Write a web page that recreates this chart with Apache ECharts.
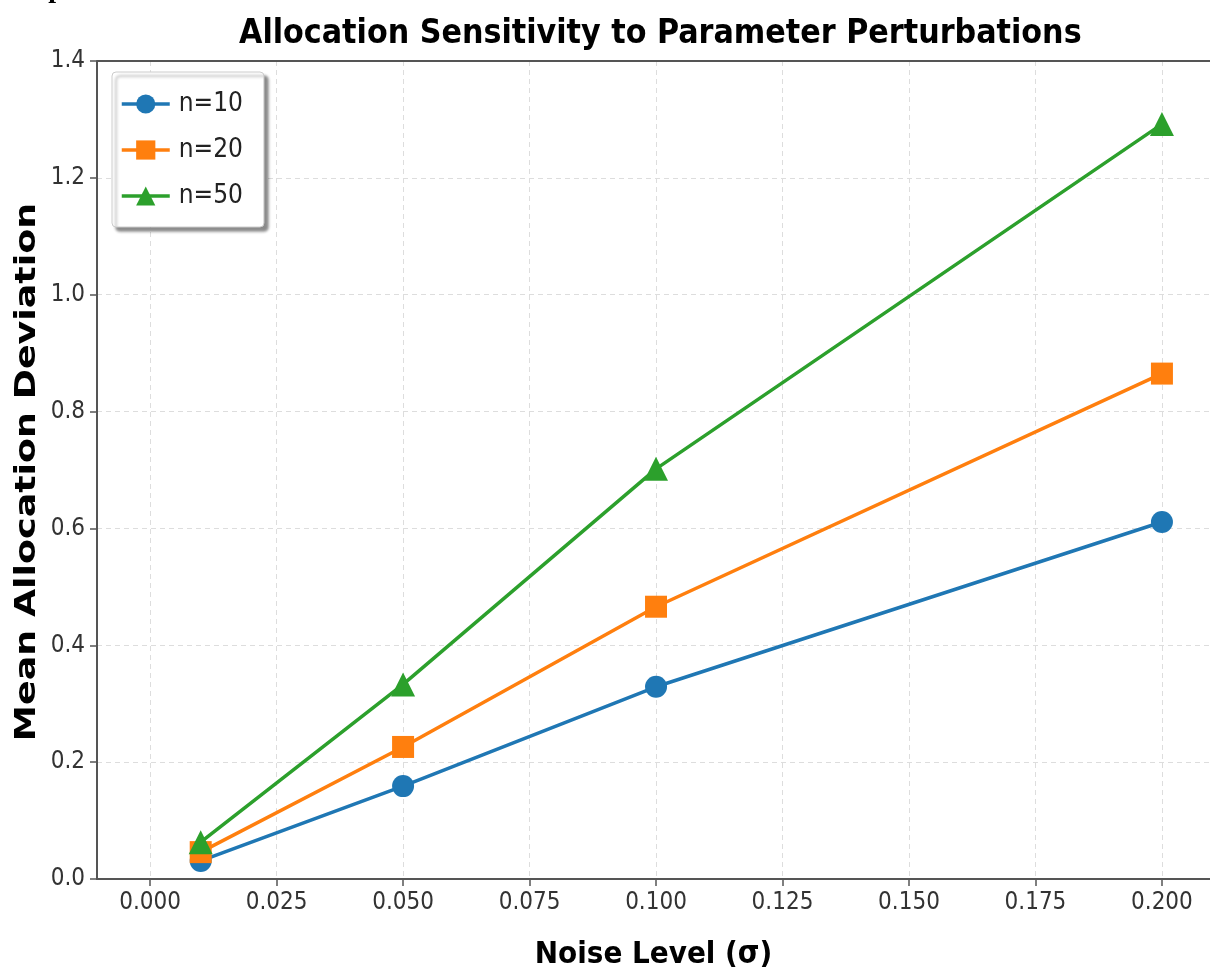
<!DOCTYPE html>
<html>
<head>
<meta charset="utf-8">
<script src="https://cdn.jsdelivr.net/npm/echarts@6/dist/echarts.min.js"></script>
<style>
html,body{margin:0;padding:0;background:#fff;}
#chart{width:1210px;height:971px;}
</style>
</head>
<body>
<div id="chart"></div>
<script>
const noiseLevels = [0.01, 0.05, 0.10, 0.20];
const seriesNames = ['n=10', 'n=20', 'n=50'];
const n10 = [0.031, 0.159, 0.329, 0.611];
const n20 = [0.046, 0.226, 0.466, 0.865];
const n50 = [0.063, 0.333, 0.702, 1.292];
const xTicks = [0, 0.025, 0.05, 0.075, 0.1, 0.125, 0.15, 0.175, 0.2];
const yTicks = [0, 0.2, 0.4, 0.6, 0.8, 1.0, 1.2, 1.4];

const colors = ['#1f77b4', '#ff7f0e', '#2ca02c'];
const symbols = ['circle', 'rect', 'triangle'];
const values = [n10, n20, n50];
const condensed = "'DejaVu Sans Condensed', 'DejaVu Sans', sans-serif";

const chart = echarts.init(document.getElementById('chart'), null, {renderer: 'canvas'});

const series = seriesNames.map((name, i) => ({
  name: name,
  type: 'line',
  data: noiseLevels.map((x, j) => [x, values[i][j]]),
  symbol: symbols[i],
  symbolSize: i === 2 ? 24 : 22,
  lineStyle: {width: 3.5, color: colors[i]},
  itemStyle: {color: colors[i]},
  z: 3 + i,
  animation: false
}));

chart.setOption({
  animation: false,
  backgroundColor: '#fff',
  title: {
    text: 'Allocation Sensitivity to Parameter Perturbations',
    left: 234,
    top: 12,
    textStyle: {fontFamily: condensed, fontWeight: 'bold', fontSize: 33.6, color: '#000'}
  },
  legend: {
    orient: 'vertical',
    left: 112,
    top: 72,
    padding: [19, 21, 18, 8],
    itemGap: 20,
    itemWidth: 48,
    itemHeight: 24,
    backgroundColor: '#fff',
    borderColor: '#cccccc',
    borderWidth: 1,
    borderRadius: 4,
    shadowColor: 'rgba(0,0,0,0.45)',
    shadowBlur: 3,
    shadowOffsetX: 4,
    shadowOffsetY: 4,
    lineStyle: {width: 3.5},
    textStyle: {fontFamily: condensed, fontSize: 26, color: '#222', padding: [0, 0, 0, 4]},
    data: seriesNames
  },
  grid: {left: 97, right: 0, top: 61, bottom: 92, containLabel: false, outerBoundsMode: 'none'},
  xAxis: {
    type: 'value',
    min: -0.0105,
    max: 0.2095,
    name: 'Noise Level (σ)',
    nameLocation: 'middle',
    nameGap: 60,
    nameTextStyle: {fontFamily: condensed, fontWeight: 'bold', fontSize: 31, color: '#000'},
    axisLine: {show: true, onZero: false, lineStyle: {color: '#555', width: 2}},
    axisTick: {show: true, inside: false, length: 7, customValues: xTicks, lineStyle: {color: '#555', width: 1.5}},
    axisLabel: {customValues: xTicks, margin: 12, fontFamily: condensed, fontSize: 24, color: '#333',
      formatter: v => v.toFixed(3)},
    splitLine: {show: true, lineStyle: {color: '#dddddd', type: [5, 4], width: 1}}
  },
  yAxis: {
    type: 'value',
    min: 0,
    max: 1.4,
    interval: 0.2,
    axisLine: {show: true, onZero: false, lineStyle: {color: '#555', width: 2}},
    axisTick: {show: true, inside: false, length: 7, lineStyle: {color: '#555', width: 1.5}},
    axisLabel: {margin: 12, fontFamily: condensed, fontSize: 24, color: '#333',
      formatter: v => v.toFixed(1)},
    splitLine: {show: true, lineStyle: {color: '#dddddd', type: [5, 4], width: 1}}
  },
  graphic: [{
    type: 'text',
    x: 0,
    y: -24,
    style: {text: 'Graphical results', font: "bold 28px 'Liberation Serif', serif", fill: '#000',
      verticalAlign: 'top'}
  }, {
    type: 'text',
    x: 28,
    y: 472,
    rotation: Math.PI / 2,
    scaleX: 1.3,
    style: {text: 'Mean Allocation Deviation', font: "bold 28px 'DejaVu Sans', sans-serif", fill: '#000',
      align: 'center', verticalAlign: 'middle'}
  }, {
    type: 'line',
    shape: {x1: 97, y1: 61, x2: 1210, y2: 61},
    style: {stroke: '#555', lineWidth: 2},
    z: 10
  }],
  series: series
});
</script>
</body>
</html>
